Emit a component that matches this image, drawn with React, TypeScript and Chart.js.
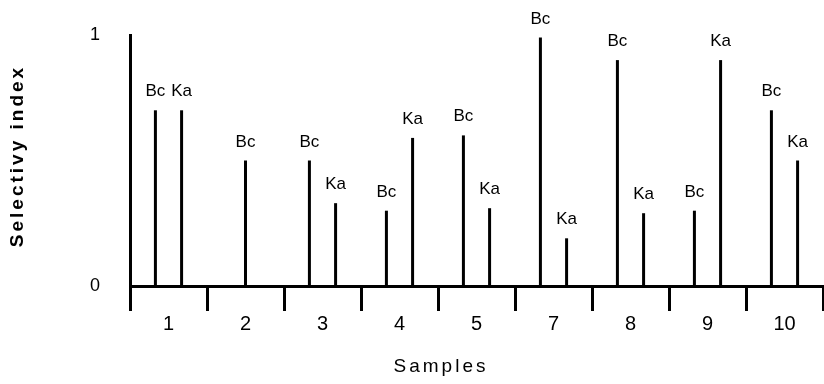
import React, { useEffect, useRef } from "react";
import { Chart, registerables } from "chart.js";

Chart.register(...registerables);

const samples = ["1", "2", "3", "4", "5", "7", "8", "9", "10"];
const bcValues: (number | null)[] = [0.7, 0.5, 0.5, 0.3, 0.6, 0.99, 0.9, 0.3, 0.7];
const kaValues: (number | null)[] = [0.7, null, 0.33, 0.59, 0.31, 0.19, 0.29, 0.9, 0.5];
const seriesNames = ["Bc", "Ka"];
const yTicks = [0, 1];
const yTitle = "Selectivy index";
const xTitle = "Samples";

const FONT = "'Liberation Sans', Arial, sans-serif";

const barLabelPlugin = {
  id: "barLabels",
  afterDatasetsDraw(chart: any) {
    const ctx = chart.ctx;
    ctx.save();
    ctx.fillStyle = "#000";
    ctx.font = `17px ${FONT}`;
    ctx.textAlign = "center";
    ctx.textBaseline = "alphabetic";
    chart.data.datasets.forEach((ds: any, di: number) => {
      const meta = chart.getDatasetMeta(di);
      meta.data.forEach((el: any, i: number) => {
        const v = ds.data[i];
        if (v === null || v === undefined) return;
        ctx.fillText(ds.label, el.x, el.y - 14);
      });
    });
    ctx.restore();
  },
};

const axisTitlePlugin = {
  id: "axisTitles",
  afterDraw(chart: any) {
    const ctx = chart.ctx;
    ctx.save();
    ctx.fillStyle = "#000";
    ctx.textAlign = "center";
    ctx.textBaseline = "middle";
    try {
      (ctx as any).letterSpacing = "3px";
    } catch (e) {}
    // y title
    ctx.save();
    ctx.translate(18, 156);
    ctx.rotate(-Math.PI / 2);
    ctx.font = `bold 19px ${FONT}`;
    ctx.fillText(yTitle, 0, 0);
    ctx.restore();
    // x title
    ctx.font = `19px ${FONT}`;
    ctx.fillText(xTitle, 441, 367);
    ctx.restore();
  },
};

export default function App() {
  const canvasRef = useRef<HTMLCanvasElement | null>(null);

  useEffect(() => {
    if (!canvasRef.current) return;
    const chart = new Chart(canvasRef.current, {
      type: "bar",
      data: {
        labels: samples,
        datasets: [
          {
            label: seriesNames[0],
            data: bcValues,
            backgroundColor: "#000",
            borderWidth: 0,
            maxBarThickness: 3,
            categoryPercentage: 0.68,
            barPercentage: 1,
          },
          {
            label: seriesNames[1],
            data: kaValues,
            backgroundColor: "#000",
            borderWidth: 0,
            maxBarThickness: 3,
            categoryPercentage: 0.68,
            barPercentage: 1,
          },
        ],
      },
      options: {
        responsive: false,
        animation: false,
        skipNull: true,
        layout: { padding: { top: 35, right: 1, left: 0, bottom: 0 } },
        plugins: {
          legend: { display: false },
          tooltip: { enabled: false },
        },
        scales: {
          x: {
            type: "category",
            offset: true,
            grid: {
              display: true,
              offset: true,
              drawOnChartArea: false,
              drawTicks: true,
              tickLength: 25,
              tickColor: "#000",
              tickWidth: 3,
              lineWidth: 3,
              color: "#000",
            },
            border: { display: true, color: "#000", width: 3 },
            ticks: {
              color: "#000",
              font: { family: FONT, size: 20 },
              padding: 1,
              maxRotation: 0,
              autoSkip: false,
            },
            afterFit: (scale: any) => {
              scale.height = 98;
            },
          },
          y: {
            type: "linear",
            min: 0,
            max: 1,
            grid: { display: false },
            border: { display: true, color: "#000", width: 3 },
            ticks: {
              color: "#000",
              font: { family: FONT, size: 18 },
              padding: 22,
            },
            afterBuildTicks: (scale: any) => {
              scale.ticks = yTicks.map((v) => ({ value: v }));
            },
            afterFit: (scale: any) => {
              scale.width = 130;
            },
          },
        },
      } as any,
      plugins: [barLabelPlugin, axisTitlePlugin],
    });
    return () => chart.destroy();
  }, []);

  return (
    <div style={{ position: "absolute", left: 0, top: 0, width: 824, height: 384, background: "#fff" }}>
      <canvas ref={canvasRef} width={824} height={384} style={{ display: "block" }} />
    </div>
  );
}
